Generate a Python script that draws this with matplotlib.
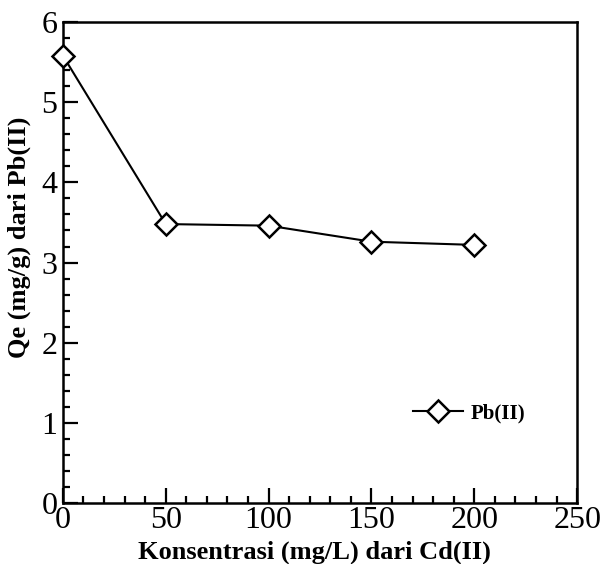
import matplotlib.pyplot as plt
from matplotlib.ticker import MultipleLocator

# data
konsentrasi = [0, 50, 100, 150, 200]
qe_pb = [5.58, 3.48, 3.46, 3.26, 3.22]

plt.rcParams['font.family'] = ['Liberation Serif', 'DejaVu Serif']

fig = plt.figure(figsize=(6.05, 5.64), dpi=100)
ax = fig.add_axes([0.104, 0.108, 0.850, 0.853])

ax.plot(konsentrasi, qe_pb, color='black', lw=1.5, marker='D', ms=11.5,
        mfc='white', mec='black', mew=1.8, label='Pb(II)', clip_on=False, zorder=3)

ax.set_xlim(0, 250)
ax.set_ylim(0, 6)
ax.xaxis.set_major_locator(MultipleLocator(50))
ax.xaxis.set_minor_locator(MultipleLocator(10))
ax.yaxis.set_major_locator(MultipleLocator(1))
ax.yaxis.set_minor_locator(MultipleLocator(0.2))
ax.tick_params(which='both', direction='in', width=1.6, top=False, right=False,
               labelsize=23)
ax.tick_params(axis='x', pad=2)
ax.tick_params(axis='y', pad=4)
ax.tick_params(which='major', length=11)
ax.tick_params(which='minor', length=5)
for s in ax.spines.values():
    s.set_linewidth(1.8)

ax.set_xlabel('Konsentrasi (mg/L) dari Cd(II)', fontsize=19, fontweight='bold')
ax.set_ylabel('Qe (mg/g) dari Pb(II)', fontsize=19, fontweight='bold')
ax.xaxis.set_label_coords(0.49, -0.078)
ax.yaxis.set_label_coords(-0.062, 0.553)

ax.legend(loc='center', bbox_to_anchor=(0.79, 0.187), frameon=False,
          prop={'weight': 'bold', 'size': 15}, handlelength=2.4, handletextpad=0.4,
          markerscale=1.0)

fig.savefig('out.png', dpi=100)
